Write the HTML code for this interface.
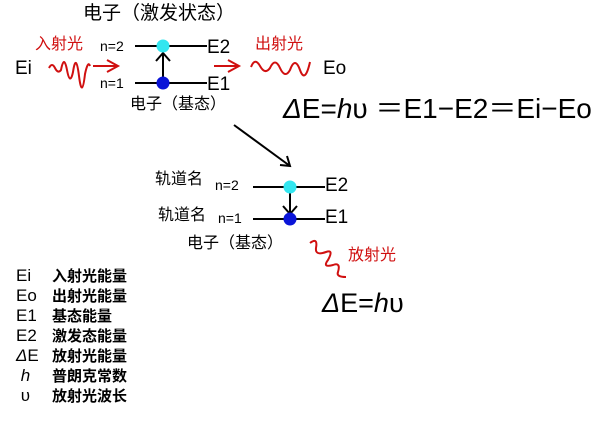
<!DOCTYPE html>
<html><head><meta charset="utf-8"><style>
body{margin:0;width:606px;height:441px;background:#fff;overflow:hidden;position:relative;font-family:"Liberation Sans","Noto Sans CJK SC",sans-serif;}
.t{position:absolute;white-space:nowrap;line-height:1;color:#000;}
.r{color:#d01010;}
.b{font-weight:bold;}
</style></head><body>
<svg width="606" height="441" style="position:absolute;left:0;top:0">
<g stroke="#000" stroke-width="2" fill="none">
<line x1="135" y1="46" x2="207" y2="46"/>
<line x1="135" y1="83" x2="207" y2="83"/>
<line x1="163" y1="78" x2="163" y2="54"/>
<polyline points="156,61 163,53 170,61"/>
<line x1="234" y1="125" x2="290" y2="166"/>
<polyline points="280,165 290,166 287,156"/>
<line x1="253" y1="187" x2="325" y2="187"/>
<line x1="253" y1="219" x2="325" y2="219"/>
<line x1="290" y1="191" x2="290" y2="214"/>
<polyline points="283,206 290,214 297,206"/>
</g>
<circle cx="163" cy="46" r="6.5" fill="#33e6f0"/>
<circle cx="163" cy="83" r="6.5" fill="#0a14d8"/>
<circle cx="290" cy="187" r="6.5" fill="#33e6f0"/>
<circle cx="290" cy="219" r="6.5" fill="#0a14d8"/>
<g stroke="#d01010" stroke-width="2" fill="none">
<path d="M49,68 Q52,62 55,68 T61,70 Q64,54 67,70 T73,72 Q76,52 79,76 T85,74 Q88,60 90,66"/>
<line x1="93" y1="66" x2="117" y2="66"/>
<polyline points="107,60 118,66 107,72"/>
<line x1="214" y1="66" x2="238" y2="66"/>
<polyline points="228,60 239,66 228,72"/>
<path d="M251,67 Q255,57 260,66 T270,68 Q275,57 280,68 T290,70 Q295,56 300,70 T310,62"/>
<path d="M310,243 Q318,237 316,248 Q315,256 326,252 Q334,249 328,260 Q322,268 333,265 Q341,262 338,272 Q336,277 346,277"/>
</g>
</svg>
<div class="t" style="left:83px;top:4px;font-size:19px">电子（激发状态）</div>
<div class="t r" style="left:35px;top:37px;font-size:16px">入射光</div>
<div class="t" style="left:15px;top:59px;font-size:19px">Ei</div>
<div class="t" style="left:100px;top:39px;font-size:14px">n=2</div>
<div class="t" style="left:100px;top:76px;font-size:14px">n=1</div>
<div class="t" style="left:207px;top:38px;font-size:19px">E2</div>
<div class="t" style="left:207px;top:75px;font-size:19px">E1</div>
<div class="t r" style="left:255px;top:37px;font-size:16px">出射光</div>
<div class="t" style="left:323px;top:59px;font-size:19px">Eo</div>
<div class="t" style="left:130px;top:97px;font-size:16px">电子（基态）</div>
<div class="t" style="left:283px;top:95px;font-size:28px"><i>Δ</i>E=<i>h</i>υ ＝E1−E2＝Ei−Eo</div>
<div class="t" style="left:155px;top:172px;font-size:16px">轨道名</div>
<div class="t" style="left:215px;top:178px;font-size:14px">n=2</div>
<div class="t" style="left:325px;top:176px;font-size:19px">E2</div>
<div class="t" style="left:158px;top:208px;font-size:16px">轨道名</div>
<div class="t" style="left:218px;top:211px;font-size:14px">n=1</div>
<div class="t" style="left:325px;top:208px;font-size:19px">E1</div>
<div class="t" style="left:187px;top:236px;font-size:16px">电子（基态）</div>
<div class="t r" style="left:348px;top:248px;font-size:16px">放射光</div>
<div class="t" style="left:322px;top:290px;font-size:27px"><i>Δ</i>E=<i>h</i>υ</div>
<div class="t" style="left:16px;top:266px;font-size:17px;line-height:20px">Ei<br>Eo<br>E1<br>E2<br><i>Δ</i>E<br>&nbsp;<i>h</i><br>&nbsp;υ</div>
<div class="t b" style="left:52px;top:267px;font-size:15px;line-height:20px">入射光能量<br>出射光能量<br>基态能量<br>激发态能量<br>放射光能量<br>普朗克常数<br>放射光波长</div>
</body></html>
